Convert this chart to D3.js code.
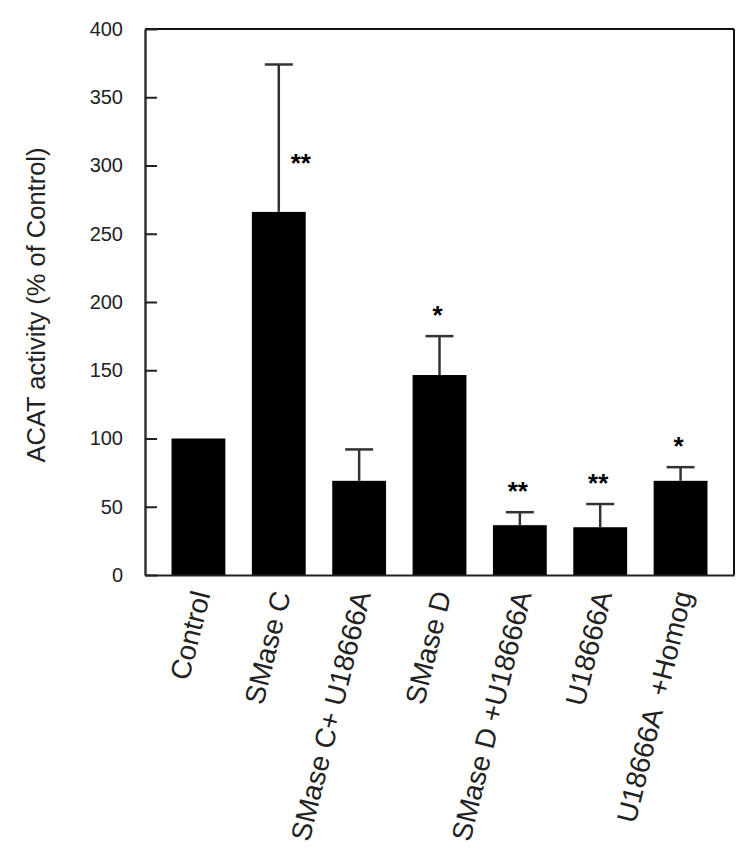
<!DOCTYPE html>
<html>
<head>
<meta charset="utf-8">
<script src="https://cdn.jsdelivr.net/npm/d3@7"></script>
<style>
  body { margin: 0; background: #fff; }
  text { font-family: "Liberation Sans", Arial, sans-serif; }
</style>
</head>
<body>
<svg id="chart"></svg>
<script>
// values
const categories = ["Control", "SMase C", "SMase C+ U18666A", "SMase D", "SMase D +U18666A", "U18666A", "U18666A  +Homog"];
const means = [100, 266, 69, 146.5, 36.5, 35, 69];
const errors = [0, 108, 23, 28.5, 9.5, 17, 10];
const marks = ["", "**", "", "*", "**", "**", "*"];
const yticks = [0, 50, 100, 150, 200, 250, 300, 350, 400];
const ylabel = "ACAT activity (% of Control)";

const data = categories.map((c, i) => ({ cat: c, mean: means[i], err: errors[i], mark: marks[i] }));

const width = 750, height = 861;
const margin = { top: 29, right: 16, bottom: 286, left: 145 };
const inner_width = width - margin.left - margin.right;
const inner_height = height - margin.top - margin.bottom;

const svg = d3.select("#chart")
    .attr("width", width)
    .attr("height", height);

svg.append("rect").attr("width", width).attr("height", height).attr("fill", "#fff");

const chart = svg.append("g")
    .attr("transform", `translate(${margin.left}, ${margin.top})`);

const xscale = d3.scaleBand()
    .domain(categories)
    .range([0, inner_width])
    .paddingInner(0.33)
    .paddingOuter(0.33);

const yscale = d3.scaleLinear()
    .domain([0, 400])
    .range([inner_height, 0]);

const cx = d => xscale(d.cat) + xscale.bandwidth() / 2;

// bars
chart.selectAll(".bar")
    .data(data)
    .join("rect")
    .attr("class", "bar")
    .attr("x", d => xscale(d.cat))
    .attr("y", d => yscale(d.mean))
    .attr("width", xscale.bandwidth())
    .attr("height", d => inner_height - yscale(d.mean))
    .attr("fill", "#000");

// error bars (upper only)
const err = chart.selectAll(".err")
    .data(data.filter(d => d.err > 0))
    .join("g")
    .attr("class", "err")
    .attr("stroke", "#333")
    .attr("stroke-width", 2.5);

err.append("line")
    .attr("x1", cx)
    .attr("x2", cx)
    .attr("y1", d => yscale(d.mean))
    .attr("y2", d => yscale(d.mean + d.err));

err.append("line")
    .attr("x1", d => cx(d) - 14)
    .attr("x2", d => cx(d) + 14)
    .attr("y1", d => yscale(d.mean + d.err))
    .attr("y2", d => yscale(d.mean + d.err));

// significance marks: above the cap, or beside a very tall error bar
chart.selectAll(".mark")
    .data(data.filter(d => d.mark))
    .join("text")
    .attr("class", "mark")
    .attr("font-size", "26px")
    .attr("font-weight", "bold")
    .attr("text-anchor", "middle")
    .attr("x", d => d.mean + d.err > 350 ? cx(d) + 22 : cx(d) - 2)
    .attr("y", d => d.mean + d.err > 350 ? yscale(d.mean) - 55 + 15 : yscale(d.mean + d.err) - 27 + 15)
    .text(d => d.mark);

// frame: top and right
chart.append("line")
    .attr("x1", 0).attr("x2", inner_width)
    .attr("y1", 0).attr("y2", 0)
    .attr("stroke", "#111").attr("stroke-width", 2);
chart.append("line")
    .attr("x1", inner_width).attr("x2", inner_width)
    .attr("y1", 0).attr("y2", inner_height)
    .attr("stroke", "#111").attr("stroke-width", 2);

// axes
const yaxis = d3.axisLeft(yscale)
    .tickValues(yticks)
    .tickSizeInner(-12)
    .tickSizeOuter(0)
    .tickPadding(22);

const yaxis_group = chart.append("g").call(yaxis);
yaxis_group.select(".domain").attr("stroke", "#333").attr("stroke-width", 2.5);
yaxis_group.selectAll(".tick line").attr("stroke", "#222").attr("stroke-width", 2);
yaxis_group.selectAll("text")
    .attr("font-size", "20px")
    .attr("font-family", "Liberation Sans, Arial, sans-serif")
    .attr("fill", "#222");

const xaxis = d3.axisBottom(xscale)
    .tickSize(0)
    .tickSizeOuter(0);

const xaxis_group = chart.append("g")
    .attr("transform", `translate(0, ${inner_height})`)
    .call(xaxis);
xaxis_group.select(".domain").attr("stroke", "#222").attr("stroke-width", 2);
xaxis_group.selectAll("text")
    .attr("x", 0)
    .attr("y", 0)
    .attr("dy", 0)
    .attr("text-anchor", "end")
    .attr("font-size", "28px")
    .attr("font-family", "Liberation Sans, Arial, sans-serif")
    .attr("fill", "#222")
    .style("white-space", "pre")
    .attr("transform", "translate(12, 19) rotate(-76)");

// y label
svg.append("text")
    .attr("transform", "rotate(-90)")
    .attr("x", -(margin.top + inner_height / 2 + 3))
    .attr("y", 45)
    .attr("text-anchor", "middle")
    .attr("font-size", "25.5px")
    .attr("fill", "#222")
    .text(ylabel);
</script>
</body>
</html>
